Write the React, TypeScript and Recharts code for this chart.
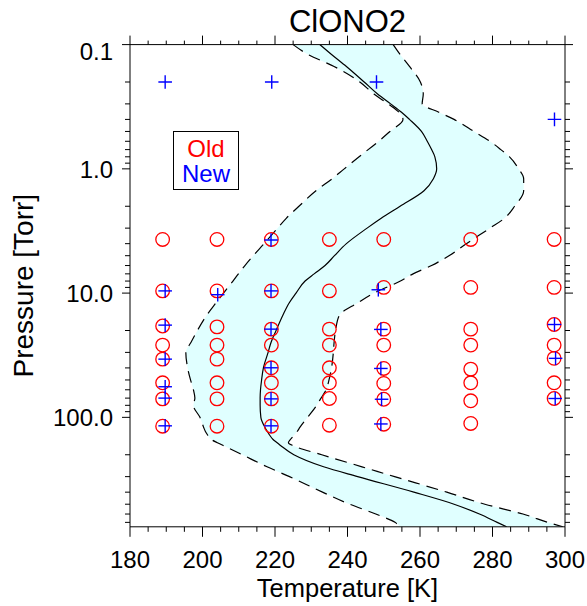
import React from 'react';
import { ComposedChart, XAxis, YAxis, Area, Line, Scatter, Legend } from 'recharts';

// Pressure levels [Torr] of the temperature profiles
const pressureLevels = [
  0.1, 0.12, 0.15, 0.2, 0.25, 0.3, 0.35, 0.4, 0.5, 0.6, 0.7, 0.8, 1, 1.2, 1.5, 2, 2.5, 3,
  4, 5, 6, 7, 8, 10, 12, 15, 20, 25, 30, 40, 50, 60, 70, 80, 100, 120, 130, 140, 150, 160,
  170, 200, 250, 300, 400, 500, 600, 700, 760,
];
// Lower envelope [K]
const tempLow = [
  225.0, 229.1, 236.3, 243.4, 247.3, 251.2, 254.2, 255.3, 251.7, 248.6, 245.7, 243.2, 239.1,
  235.8, 231.3, 226.6, 223.1, 220.7, 217.0, 214.0, 211.7, 209.9, 208.4, 205.8, 203.7, 201.2,
  198.6, 196.8, 195.4, 195.9, 196.7, 197.5, 197.9, 197.5, 199.3, 200.3, 200.8, 201.5, 202.3,
  204.1, 206.0, 211.0, 217.8, 224.0, 233.1, 240.6, 247.8, 253.1, 254.5,
];
// Mean profile [K]
const tempMean = [
  232.4, 235.6, 239.7, 244.6, 248.3, 251.9, 254.9, 257.1, 260.4, 262.0, 263.2, 264.1, 264.6,
  263.7, 261.1, 254.5, 249.3, 245.4, 239.7, 236.4, 233.8, 230.8, 228.3, 225.8, 223.9, 222.2,
  220.3, 218.9, 218.1, 216.8, 216.3, 216.0, 215.9, 215.9, 216.1, 217.2, 217.9, 218.6, 219.4,
  220.6, 221.7, 225.2, 233.4, 242.8, 258.3, 269.4, 276.4, 281.3, 283.9,
];
// Upper envelope [K]
const tempHigh = [
  252.6, 254.5, 257.1, 260.1, 260.9, 260.6, 265.2, 269.4, 274.9, 279.3, 282.3, 284.7, 287.2,
  288.6, 288.6, 286.1, 283.3, 279.3, 272.8, 268.0, 263.2, 258.1, 254.6, 247.3, 242.8, 237.8,
  236.7, 236.3, 236.1, 235.6, 234.9, 234.1, 232.7, 231.5, 229.0, 226.9, 226.1, 225.2, 224.3,
  223.7, 225.2, 232.9, 244.0, 253.0, 267.4, 277.9, 288.4, 295.3, 299.4,
];

// Old measurement grid: temperatures and the pressures measured at each
const oldTemps = [189, 204, 219, 235, 250, 274, 297];
const oldPressures = [
  [3.7, 9.6, 18.4, 26.2, 34.0, 52.7, 71.0, 117.8],
  [3.7, 9.6, 18.7, 26.2, 34.0, 52.7, 71.0, 117.8],
  [3.7, 9.6, 19.5, 26.2, 39.9, 52.7, 71.0, 117.8],
  [3.7, 9.6, 19.5, 26.2, 39.9, 52.7, 70.5, 115.6],
  [3.7, 9.0, 19.5, 26.2, 40.4, 53.3, 71.5, 113.5],
  [3.7, 9.0, 19.5, 26.2, 40.9, 52.7, 73.6, 112.0],
  [3.7, 9.0, 17.9, 26.2, 33.5, 52.7, 70.5],
];

// New measurements
const newTemps = [
  189.7, 219.1, 248.0, 297.1,
  189.7, 189.7, 189.7, 189.7, 189.7, 189.7,
  204.2,
  218.9, 218.9, 218.9, 218.9, 218.9, 218.9,
  248.5, 249.2, 249.2, 249.4, 249.2,
  297.1, 297.4, 297.3,
];
const newPressures = [
  0.2, 0.2, 0.2, 0.4,
  9.6, 18.1, 34.0, 56.7, 70.0, 117.0,
  10.3,
  3.74, 9.6, 19.5, 39.9, 71.0, 117.0,
  9.4, 19.6, 40.4, 71.5, 113.0,
  17.9, 33.5, 70.5,
];

const tempDomain = [180, 300];
const pressureDomain = [0.1, 760];
const tempTicks = [
  180, 185, 190, 195, 200, 205, 210, 215, 220, 225, 230, 235, 240, 245, 250, 255, 260, 265,
  270, 275, 280, 285, 290, 295, 300,
];
const tempMajor = [180, 200, 220, 240, 260, 280, 300];
const pressureTicks = [
  0.1, 0.2, 0.3, 0.4, 0.5, 0.6, 0.7, 0.8, 0.9,
  1, 2, 3, 4, 5, 6, 7, 8, 9,
  10, 20, 30, 40, 50, 60, 70, 80, 90,
  100, 200, 300, 400, 500, 600, 700,
];
const pressureMajor = [0.1, 1, 10, 100];

const profileRows = pressureLevels.map((p, i) => ({
  p,
  low: tempLow[i],
  mean: tempMean[i],
  high: tempHigh[i],
}));
const oldRows = oldTemps.flatMap((t, i) => oldPressures[i].map((p) => ({ t, p })));
const newRows = newTemps.map((t, i) => ({ t, p: newPressures[i] }));

const FONT = '"Liberation Sans", Arial, Helvetica, sans-serif';
const INK = '#000000';

const LeftTick = (props: any) => {
  const { x, y, payload } = props;
  const v = payload.value;
  const major = pressureMajor.includes(v);
  const dy = v === pressureDomain[0] ? 15.5 : 8.7;
  return (
    <g>
      <line x1={x - (major ? 8 : 5)} x2={x} y1={y} y2={y} stroke={INK} strokeWidth={1} />
      {major && (
        <text x={x - 17} y={y + dy} textAnchor="end" fontSize={24} fontFamily={FONT} fill={INK}>
          {v.toFixed(1)}
        </text>
      )}
    </g>
  );
};

const RightTick = (props: any) => {
  const { x, y, payload } = props;
  const major = pressureMajor.includes(payload.value);
  return <line x1={x} x2={x + (major ? 8 : 5)} y1={y} y2={y} stroke={INK} strokeWidth={1} />;
};

const BottomTick = (props: any) => {
  const { x, y, payload } = props;
  const v = payload.value;
  const major = tempMajor.includes(v);
  return (
    <g>
      <line x1={x} x2={x} y1={y} y2={y + (major ? 10 : 5)} stroke={INK} strokeWidth={1} />
      {major && (
        <text x={x} y={y + 41} textAnchor="middle" fontSize={24} fontFamily={FONT} fill={INK}>
          {v}
        </text>
      )}
    </g>
  );
};

const TopTick = (props: any) => {
  const { x, y, payload } = props;
  const major = tempMajor.includes(payload.value);
  return <line x1={x} x2={x} y1={y} y2={y - (major ? 9 : 4)} stroke={INK} strokeWidth={1} />;
};

const OpenCircle = (props: any) => (
  <circle cx={props.cx} cy={props.cy} r={6.8} fill="none" stroke="#ff0000" strokeWidth={1.3} />
);

const PlusMark = (props: any) => {
  const { cx, cy } = props;
  const a = 6.8;
  return (
    <g stroke="#0000ff" strokeWidth={1.4}>
      <line x1={cx - a} x2={cx + a} y1={cy} y2={cy} />
      <line x1={cx} x2={cx} y1={cy - a} y2={cy + a} />
    </g>
  );
};

const TitleLabel = (props: any) => {
  const vb = props.viewBox || { x: 130, y: 0, width: 435, height: 44.6 };
  return (
    <text x={vb.x + vb.width / 2} y={vb.y + vb.height - 13} textAnchor="middle" fontSize={31} fontFamily={FONT} fill={INK}>
      ClONO2
    </text>
  );
};

const XTitle = (props: any) => {
  const vb = props.viewBox || { x: 130, y: 526.8, width: 435, height: 79.2 };
  return (
    <text x={vb.x + vb.width / 2} y={vb.y + 69.7} textAnchor="middle" fontSize={25.5} fontFamily={FONT} fill={INK}>
      Temperature [K]
    </text>
  );
};

const YTitle = (props: any) => {
  const vb = props.viewBox || { x: 0, y: 44.6, width: 130, height: 482.2 };
  const cx = vb.x + 33;
  const cy = vb.y + vb.height / 2;
  return (
    <text x={cx} y={cy} transform={`rotate(-90, ${cx}, ${cy})`} textAnchor="middle" fontSize={28} fontFamily={FONT} fill={INK}>
      Pressure [Torr]
    </text>
  );
};

const LegendBox = () => (
  <div
    style={{
      boxSizing: 'border-box',
      width: 66,
      height: 59,
      border: '1px solid #000',
      background: '#fff',
      paddingTop: 4,
      fontFamily: FONT,
      fontSize: 24,
      lineHeight: '25px',
      textAlign: 'center',
    }}
  >
    <div style={{ color: '#ff0000' }}>Old</div>
    <div style={{ color: '#0000ff' }}>New</div>
  </div>
);

export default function App() {
  return (
    <div style={{ position: 'fixed', left: 0, top: 0, background: '#fff' }}>
      <ComposedChart
        width={587}
        height={606}
        layout="vertical"
        data={profileRows}
        margin={{ top: 0, right: 0, bottom: 0, left: 0 }}
      >
        <XAxis
          xAxisId={0}
          dataKey="t"
          type="number"
          orientation="bottom"
          domain={tempDomain}
          allowDataOverflow
          ticks={tempTicks}
          interval={0}
          height={79.2}
          tickSize={0}
          tickMargin={0}
          tickLine={false}
          tick={<BottomTick />}
          axisLine={{ stroke: INK, strokeWidth: 1 }}
          label={<XTitle />}
        />
        <XAxis
          xAxisId="top"
          dataKey="t"
          type="number"
          orientation="top"
          domain={tempDomain}
          allowDataOverflow
          ticks={tempTicks}
          interval={0}
          height={44.6}
          tickSize={0}
          tickMargin={0}
          tickLine={false}
          tick={<TopTick />}
          axisLine={{ stroke: INK, strokeWidth: 1 }}
          label={<TitleLabel />}
        />
        <YAxis
          yAxisId={0}
          dataKey="p"
          type="number"
          scale="log"
          orientation="left"
          domain={pressureDomain}
          allowDataOverflow
          ticks={pressureTicks}
          interval={0}
          width={130}
          tickSize={0}
          tickMargin={0}
          tickLine={false}
          tick={<LeftTick />}
          axisLine={{ stroke: INK, strokeWidth: 1 }}
          label={<YTitle />}
        />
        <YAxis
          yAxisId="right"
          dataKey="p"
          type="number"
          scale="log"
          orientation="right"
          domain={pressureDomain}
          allowDataOverflow
          ticks={pressureTicks}
          interval={0}
          width={22}
          tickSize={0}
          tickMargin={0}
          tickLine={false}
          tick={<RightTick />}
          axisLine={{ stroke: INK, strokeWidth: 1 }}
        />
        <Area
          dataKey={(d: any) => [d.low, d.high]}
          type="monotone"
          stroke="none"
          fill="#e0ffff"
          fillOpacity={1}
          isAnimationActive={false}
          activeDot={false}
        />
        <Line dataKey="low" type="monotone" stroke={INK} strokeWidth={1.2} strokeDasharray="12 7" dot={false} activeDot={false} isAnimationActive={false} />
        <Line dataKey="high" type="monotone" stroke={INK} strokeWidth={1.2} strokeDasharray="12 7" dot={false} activeDot={false} isAnimationActive={false} />
        <Line dataKey="mean" type="monotone" stroke={INK} strokeWidth={1.2} dot={false} activeDot={false} isAnimationActive={false} />
        <Scatter data={oldRows} shape={<OpenCircle />} isAnimationActive={false} />
        <Scatter data={newRows} shape={<PlusMark />} isAnimationActive={false} />
        <Legend
          layout="horizontal"
          verticalAlign="middle"
          align="center"
          content={<LegendBox />}
          wrapperStyle={{ position: 'absolute', left: 173, top: 131, width: 66, height: 59 }}
        />
      </ComposedChart>
    </div>
  );
}
